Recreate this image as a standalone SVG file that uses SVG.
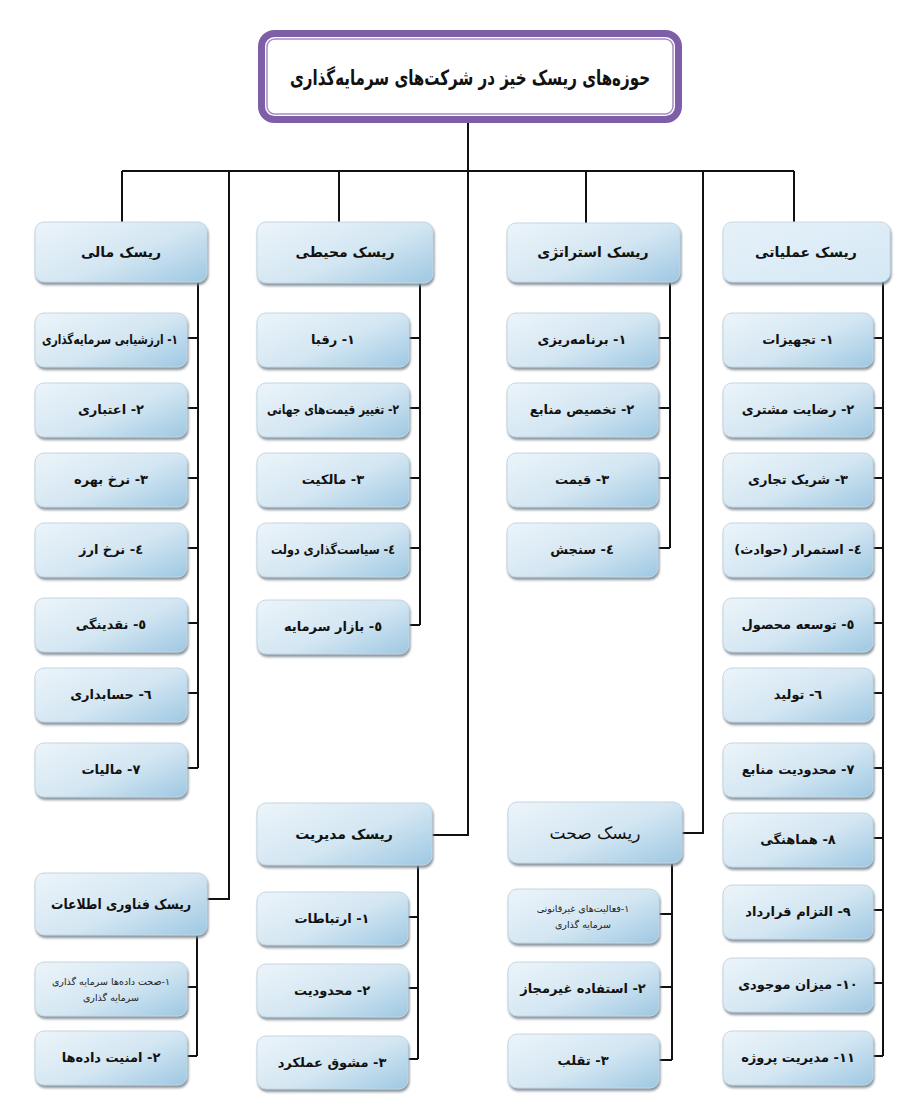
<svg xmlns="http://www.w3.org/2000/svg" width="901" height="1108" viewBox="0 0 901 1108">
<defs>
<linearGradient id="bg" x1="0" y1="0.1" x2="1" y2="0.9">
<stop offset="0" stop-color="#eaf3f9"/>
<stop offset="0.55" stop-color="#d3e6f2"/>
<stop offset="1" stop-color="#a3cbe4"/>
</linearGradient>
<linearGradient id="bgl" x1="0" y1="0" x2="1" y2="1">
<stop offset="0" stop-color="#e6f1f9"/>
<stop offset="1" stop-color="#d4e8f5"/>
</linearGradient>
<filter id="sh" x="-10%" y="-10%" width="120%" height="130%">
<feDropShadow dx="1" dy="2.5" stdDeviation="1" flood-color="#7a8793" flood-opacity="0.9"/>
</filter>
</defs>
<style>
.b{fill:url(#bg);stroke:#c3d6e3;stroke-width:1;filter:url(#sh)}
.bl{fill:url(#bgl);stroke:#c8dbe8;stroke-width:1;filter:url(#sh)}
.h{font-family:"DejaVu Sans",sans-serif;font-weight:bold;font-size:14px;fill:#111;text-anchor:middle;direction:rtl}
.c{font-family:"DejaVu Sans",sans-serif;font-weight:bold;font-size:13px;fill:#111;text-anchor:middle;direction:rtl}
.s{font-family:"DejaVu Sans",sans-serif;font-size:9.5px;fill:#222;text-anchor:middle;direction:rtl}
.n{font-family:"DejaVu Sans",sans-serif;font-size:17px;fill:#111;text-anchor:middle;direction:rtl}
.ln{fill:none;stroke:#111;stroke-width:2}
</style>
<rect width="901" height="1108" fill="#ffffff"/>

<g id="connectors" class="ln">
<path d="M468,122 V835 H432"/>
<path d="M122,171 H794"/>
<path d="M122,171 V222"/>
<path d="M229,171 V899 H207"/>
<path d="M339,171 V222"/>
<path d="M586,171 V223"/>
<path d="M703,171 V833 H682"/>
<path d="M794,171 V222"/>
<path d="M198,282 V768 M187,338 H198 M187,408 H198 M187,478 H198 M187,548 H198 M187,623 H198 M187,693 H198 M187,768 H198"/>
<path d="M420,283 V625 M409,338 H420 M409,408 H420 M409,478 H420 M409,548 H420 M409,625 H420"/>
<path d="M670,282 V548 M658,338 H670 M658,408 H670 M658,478 H670 M658,548 H670"/>
<path d="M883,282 V1056 M873,338 H883 M873,408 H883 M873,478 H883 M873,548 H883 M873,623 H883 M873,693 H883 M873,768 H883 M873,838 H883 M873,910 H883 M873,983 H883 M873,1056 H883"/>
<path d="M418,865 V1059 M408,917 H418 M408,988 H418 M408,1059 H418"/>
<path d="M672,863 V1060 M659,914 H672 M659,987 H672 M659,1060 H672"/>
<path d="M197,935 V1056 M187,987 H197 M187,1056 H197"/>
</g>

<g id="title">
<rect x="261.5" y="33.5" width="417" height="86" rx="13" fill="#ffffff" stroke="#7e5ea6" stroke-width="7"/>
<rect x="267" y="39" width="406" height="75" rx="8" fill="none" stroke="#a58cc4" stroke-width="1.5"/>
<text x="470" y="85" font-family="DejaVu Sans, sans-serif" font-weight="bold" font-size="21" text-anchor="middle" direction="rtl" fill="#111" textLength="360" lengthAdjust="spacingAndGlyphs">حوزه‌های ریسک خیز در شرکت‌های سرمایه‌گذاری</text>
</g>

<g id="mali">
<rect class="b" x="35" y="222" width="172" height="60" rx="9"/>
<text class="h" x="121" y="257">ریسک مالی</text>
</g>
<g id="mali-1"><rect class="b" x="35" y="313" width="152" height="54" rx="9"/><text class="c" x="110" y="344" textLength="136" lengthAdjust="spacingAndGlyphs">١- ارزشیابی سرمایه‌گذاری</text></g>
<g id="mali-2"><rect class="b" x="35" y="383" width="152" height="54" rx="9"/><text class="c" x="111" y="414">٢- اعتباری</text></g>
<g id="mali-3"><rect class="b" x="35" y="453" width="152" height="54" rx="9"/><text class="c" x="111" y="484">٣- نرخ بهره</text></g>
<g id="mali-4"><rect class="b" x="35" y="523" width="152" height="54" rx="9"/><text class="c" x="111" y="554">٤- نرخ ارز</text></g>
<g id="mali-5"><rect class="b" x="35" y="598" width="152" height="54" rx="9"/><text class="c" x="111" y="629">٥- نقدینگی</text></g>
<g id="mali-6"><rect class="b" x="35" y="668" width="152" height="54" rx="9"/><text class="c" x="111" y="699">٦- حسابداری</text></g>
<g id="mali-7"><rect class="b" x="35" y="743" width="152" height="54" rx="9"/><text class="c" x="111" y="774">٧- مالیات</text></g>

<g id="mohiti">
<rect class="b" x="257" y="222" width="176" height="61" rx="9"/>
<text class="h" x="345" y="257">ریسک محیطی</text>
</g>
<g id="mohiti-1"><rect class="b" x="257" y="313" width="152" height="54" rx="9"/><text class="c" x="333" y="344">١- رقبا</text></g>
<g id="mohiti-2"><rect class="b" x="257" y="383" width="152" height="54" rx="9"/><text class="c" x="333" y="414" textLength="132" lengthAdjust="spacingAndGlyphs">٢- تغییر قیمت‌های جهانی</text></g>
<g id="mohiti-3"><rect class="b" x="257" y="453" width="152" height="54" rx="9"/><text class="c" x="333" y="484">٣- مالکیت</text></g>
<g id="mohiti-4"><rect class="b" x="257" y="523" width="152" height="54" rx="9"/><text class="c" x="333" y="554" textLength="124" lengthAdjust="spacingAndGlyphs">٤- سیاست‌گذاری دولت</text></g>
<g id="mohiti-5"><rect class="b" x="257" y="600" width="152" height="54" rx="9"/><text class="c" x="333" y="631">٥- بازار سرمایه</text></g>

<g id="strategy">
<rect class="b" x="507" y="223" width="173" height="59" rx="9"/>
<text class="h" x="593" y="257">ریسک استراتژی</text>
</g>
<g id="strategy-1"><rect class="b" x="507" y="313" width="151" height="54" rx="9"/><text class="c" x="582" y="344">١- برنامه‌ریزی</text></g>
<g id="strategy-2"><rect class="b" x="507" y="383" width="151" height="54" rx="9"/><text class="c" x="582" y="414">٢- تخصیص منابع</text></g>
<g id="strategy-3"><rect class="b" x="507" y="453" width="151" height="54" rx="9"/><text class="c" x="582" y="484">٣- قیمت</text></g>
<g id="strategy-4"><rect class="b" x="507" y="523" width="151" height="54" rx="9"/><text class="c" x="582" y="554">٤- سنجش</text></g>

<g id="amaliyati">
<rect class="bl" x="723" y="222" width="167" height="60" rx="9"/>
<text class="h" x="806" y="257">ریسک عملیاتی</text>
</g>
<g id="amaliyati-1"><rect class="b" x="723" y="313" width="150" height="54" rx="9"/><text class="c" x="798" y="344">١- تجهیزات</text></g>
<g id="amaliyati-2"><rect class="b" x="723" y="383" width="150" height="54" rx="9"/><text class="c" x="798" y="414">٢- رضایت مشتری</text></g>
<g id="amaliyati-3"><rect class="b" x="723" y="453" width="150" height="54" rx="9"/><text class="c" x="798" y="484">٣- شریک تجاری</text></g>
<g id="amaliyati-4"><rect class="b" x="723" y="523" width="150" height="54" rx="9"/><text class="c" x="798" y="554">٤- استمرار (حوادث)</text></g>
<g id="amaliyati-5"><rect class="b" x="723" y="598" width="150" height="54" rx="9"/><text class="c" x="798" y="629">٥- توسعه محصول</text></g>
<g id="amaliyati-6"><rect class="b" x="723" y="668" width="150" height="54" rx="9"/><text class="c" x="798" y="699">٦- تولید</text></g>
<g id="amaliyati-7"><rect class="b" x="723" y="743" width="150" height="54" rx="9"/><text class="c" x="798" y="774">٧- محدودیت منابع</text></g>
<g id="amaliyati-8"><rect class="b" x="723" y="813" width="150" height="54" rx="9"/><text class="c" x="798" y="844">٨- هماهنگی</text></g>
<g id="amaliyati-9"><rect class="b" x="723" y="885" width="150" height="54" rx="9"/><text class="c" x="798" y="916">٩- التزام قرارداد</text></g>
<g id="amaliyati-10"><rect class="b" x="723" y="958" width="150" height="54" rx="9"/><text class="c" x="798" y="989">١٠- میزان موجودی</text></g>
<g id="amaliyati-11"><rect class="b" x="723" y="1031" width="150" height="54" rx="9"/><text class="c" x="798" y="1062">١١- مدیریت پروژه</text></g>

<g id="modiriat">
<rect class="b" x="257" y="803" width="175" height="62" rx="9"/>
<text class="h" x="344" y="839">ریسک مدیریت</text>
</g>
<g id="modiriat-1"><rect class="b" x="257" y="892" width="151" height="53" rx="9"/><text class="c" x="332" y="923">١- ارتباطات</text></g>
<g id="modiriat-2"><rect class="b" x="257" y="964" width="151" height="53" rx="9"/><text class="c" x="332" y="995">٢- محدودیت</text></g>
<g id="modiriat-3"><rect class="b" x="257" y="1036" width="151" height="53" rx="9"/><text class="c" x="332" y="1067">٣- مشوق عملکرد</text></g>

<g id="sehat">
<rect class="b" x="508" y="802" width="174" height="61" rx="9"/>
<text class="n" x="595" y="839">ریسک صحت</text>
</g>
<g id="sehat-1"><rect class="b" x="508" y="889" width="151" height="54" rx="9"/><text class="s" x="583" y="912">١-فعالیت‌های غیرقانونی</text><text class="s" x="583" y="928">سرمایه گذاری</text></g>
<g id="sehat-2"><rect class="b" x="508" y="962" width="151" height="54" rx="9"/><text class="c" x="583" y="993">٢- استفاده غیرمجاز</text></g>
<g id="sehat-3"><rect class="b" x="508" y="1034" width="151" height="54" rx="9"/><text class="c" x="583" y="1065">٣- تقلب</text></g>

<g id="fanavari">
<rect class="b" x="35" y="873" width="172" height="62" rx="9"/>
<text class="h" x="121" y="909" textLength="140" lengthAdjust="spacingAndGlyphs">ریسک فناوری اطلاعات</text>
</g>
<g id="fanavari-1"><rect class="b" x="35" y="962" width="152" height="54" rx="9"/><text class="s" x="111" y="985">١-صحت داده‌ها سرمایه گذاری</text><text class="s" x="111" y="1001">سرمایه گذاری</text></g>
<g id="fanavari-2"><rect class="b" x="35" y="1031" width="152" height="54" rx="9"/><text class="c" x="111" y="1062">٢- امنیت داده‌ها</text></g>
</svg>
